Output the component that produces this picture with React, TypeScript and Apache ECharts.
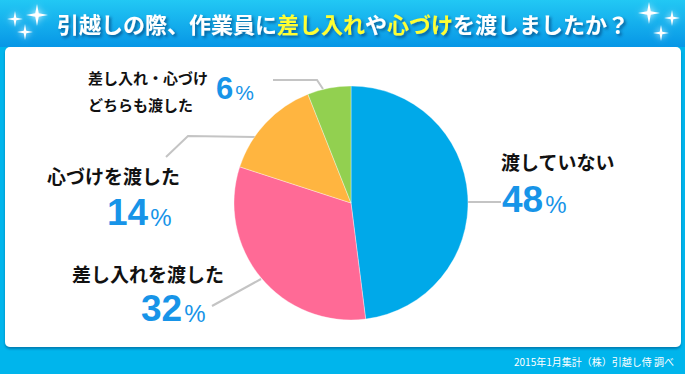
import React, { useEffect, useRef } from "react";
import * as echarts from "echarts";

const categories = ["渡していない", "差し入れを渡した", "心づけを渡した", "差し入れ・心づけどちらも渡した"];
const values = [48, 32, 14, 6];
const nameLines = [["渡していない"], ["差し入れを渡した"], ["心づけを渡した"], ["差し入れ・心づけ", "どちらも渡した"]];
const sliceColors = ["#00A9E9", "#FF6A96", "#FFB540", "#92D050"];
const titleText = "引越しの際、作業員に{y|差し入れ}や{y|心づけ}を渡しましたか？";
const sourceText = "2015年1月集計（株）引越し侍 調べ";

const JP = '"Noto Sans CJK JP", "Noto Sans", sans-serif';
const NUM = '"Liberation Sans", Arial, sans-serif';
const BLUE = "#1794E8";

// label placement (px) per slice
const labelPos = [
  { x: 502, y: 199, line: [[467, 202], [501, 202]] },
  { x: 141, y: 308, line: [[261, 279], [212, 306]] },
  { x: 107, y: 212, line: [[255, 137], [188, 136], [166, 157]] },
  { x: 216, y: 88, line: [[323, 89], [317, 80], [273, 80]] },
];
const namePos = [
  { x: 501, y: 161, size: 19 },
  { x: 72, y: 273, size: 19 },
  { x: 47, y: 175, size: 19 },
  { x: 88, y: 77, size: 15, gap: 27 },
];

function star(x: number, y: number, r: number) {
  const w = r * 0.16;
  return {
    type: "polygon",
    x,
    y,
    shape: { points: [[0, -r], [w, -w], [r, 0], [w, w], [0, r], [-w, w], [-r, 0], [-w, -w]] },
    style: { fill: "#ffffff", shadowBlur: 6, shadowColor: "rgba(255,255,255,0.9)" },
    z: 10,
  };
}

export default function App() {
  const ref = useRef<HTMLDivElement>(null);
  useEffect(() => {
    if (!ref.current) return;
    const chart = echarts.init(ref.current, null, { renderer: "svg" });

    const nameTexts: any[] = [];
    nameLines.forEach((lines, i) => {
      const p = namePos[i];
      lines.forEach((t, k) => {
        nameTexts.push({
          type: "text",
          x: p.x,
          y: p.y + k * (p.gap || 0),
          style: {
            text: t,
            fill: "#111111",
            fontSize: p.size,
            fontWeight: "bold",
            fontFamily: JP,
            align: "left",
            verticalAlign: "middle",
            textAlign: "left",
            textVerticalAlign: "middle",
          },
          z: 20,
        });
      });
    });

    const shadow = {
      textShadowColor: "rgba(0,45,100,0.6)",
      textShadowBlur: 3,
      textShadowOffsetX: 2,
      textShadowOffsetY: 2,
    };

    chart.setOption({
      animation: false,
      backgroundColor: "#00B5EC",
      graphic: [
        {
          type: "rect",
          shape: { x: 0, y: 0, width: 685, height: 47 },
          style: {
            fill: new echarts.graphic.LinearGradient(0, 0, 0, 1, [
              { offset: 0, color: "#22C8F4" },
              { offset: 1, color: "#0796E6" },
            ]),
          },
          z: 1,
        },
        {
          type: "rect",
          shape: { x: 5, y: 47, width: 676, height: 300, r: 5 },
          style: { fill: "#ffffff", shadowBlur: 2, shadowOffsetY: 2, shadowColor: "rgba(0,60,110,0.45)" },
          z: 2,
        },
        {
          type: "text",
          x: 57,
          y: 23,
          style: {
            text: titleText,
            fontSize: 22,
            fontWeight: "bold",
            fontFamily: JP,
            align: "left",
            verticalAlign: "middle",
            textAlign: "left",
            textVerticalAlign: "middle",
            fill: "#ffffff",
            ...shadow,
            rich: { y: { fill: "#FFFF33", fontSize: 22, fontWeight: "bold", fontFamily: JP, ...shadow } },
          },
          z: 12,
        },
        star(37, 15, 11),
        star(15, 19, 8),
        star(25, 32, 8),
        star(649, 13, 11),
        star(672, 18, 8),
        star(661, 33, 8),
        {
          type: "text",
          x: 674,
          y: 361,
          style: {
            text: sourceText,
            fill: "#ffffff",
            fontSize: 10,
            fontFamily: JP,
            align: "right",
            verticalAlign: "middle",
            textAlign: "right",
            textVerticalAlign: "middle",
          },
          z: 12,
        },
        ...nameTexts,
      ],
      series: [
        {
          type: "pie",
          center: [351, 203],
          radius: 117,
          startAngle: 90,
          clockwise: true,
          z: 5,
          itemStyle: { borderColor: "rgba(255,255,255,0.6)", borderWidth: 0.6 },
          data: values.map((v, i) => ({ name: categories[i], value: v, itemStyle: { color: sliceColors[i] } })),
          label: {
            show: true,
            position: "outside",
            formatter: (p: any) =>
              p.dataIndex === 3 ? `{numS|${p.value}}{pctS|%}` : `{num|${p.value}}{pct|%}`,
            rich: {
              num: { fontSize: 37, fontWeight: "bold", fontFamily: NUM, color: BLUE, verticalAlign: "bottom" },
              pct: { fontSize: 24, fontFamily: NUM, color: BLUE, verticalAlign: "bottom", padding: [0, 0, 1, 2] },
              numS: { fontSize: 31, fontWeight: "bold", fontFamily: NUM, color: BLUE, verticalAlign: "bottom" },
              pctS: { fontSize: 21, fontFamily: NUM, color: BLUE, verticalAlign: "bottom", padding: [0, 0, 1, 2] },
            },
          },
          labelLine: { show: true, lineStyle: { color: "#C4C4C4", width: 2 } },
          labelLayout: (params: any) => {
            const p = labelPos[params.dataIndex];
            return {
              x: p.x,
              y: p.y,
              align: "left",
              verticalAlign: "middle",
              labelLinePoints: p.line,
            };
          },
        },
      ],
    });
    return () => chart.dispose();
  }, []);
  return <div ref={ref} style={{ position: "fixed", left: 0, top: 0, width: 685, height: 374 }} />;
}
